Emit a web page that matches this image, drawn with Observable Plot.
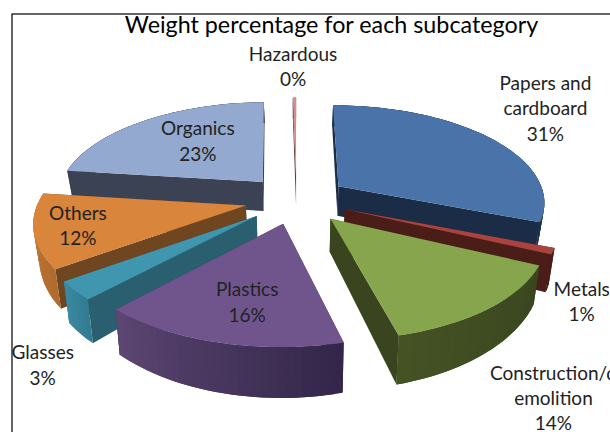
<!DOCTYPE html>
<html><head><meta charset="utf-8">
<script src="https://cdn.jsdelivr.net/npm/d3@7"></script>
<script src="https://cdn.jsdelivr.net/npm/@observablehq/plot@0.6"></script>
<style>html,body{margin:0;padding:0;background:#fff;overflow:hidden}</style>
</head><body><div id="chart"></div>
<script>
const title = "Weight percentage for each subcategory";
const categories = ["Papers and\ncardboard","Metals","Construction/d\nemolition","Plastics","Glasses","Others","Organics","Hazardous"];
const shares = [31,1,14,16,3,12,22.7,0.3];
const topColors = ["#4a74a9","#a8433f","#87a54c","#70558d","#3f96ae","#d9853b","#93a9cf","#cf8f8c"];
const wallColors = ["#1b2d46","#4a1d19","#3a4520","#3a2c4e","#2a5f70","#6f4620","#3b4253","#5a3030"];
const arcStart = ["#1b2f49","#4a1d19","#445224","#5c4672","#3a89a1","#c67d38","#3b4253","#5a3030"];
const arcEnd = ["#1c3049","#4a1d19","#3a4620","#33264a","#327c92","#b06c2f","#3b4253","#5a3030"];
const drawOrder = [7,6,0,5,1,4,2,3];
const labelShift = [[207,-79],[237,91],[223,178],[-36,77],[-214,148],[-168,19],[-65,-42],[-3,-111]];

// pie geometry (radii in chart units)
const cx = 296, cy = 199, Rx = 207, Ry = 96.7, explode = 0.25, tilt = 0.15, wall = 31;
const total = d3.sum(shares);
const angles = d3.cumsum(shares).map(c => c / total * 2 * Math.PI);
const project = (u, v, low) => {
  const s = 1 / (1 + tilt * v);
  const x = cx + Rx * u * s, y = cy - Ry * v * s;
  return low ? [cx + (x - cx) * 0.977, y + wall * Math.pow(s, 2.4)] : [x, y];
};
const rows = [];
let nid = 0;
const poly = (pts, color) => { const id = nid++; pts.forEach(p => rows.push({id, x: p[0], y: p[1], color})); };
const labels = [];
const slices = [];
shares.forEach((v, i) => {
  const a0 = i ? angles[i - 1] : 0, a1 = angles[i], mid = (a0 + a1) / 2;
  const ou = explode * Math.sin(mid), ov = explode * Math.cos(mid);
  const apex = project(ou, ov);
  labels.push({text: `${categories[i]}\n${Math.round(v)}%`, x: apex[0] + labelShift[i][0], y: apex[1] + labelShift[i][1]});
  slices[i] = {a0, a1, ou, ov};
});
function slicePoly(i) {
  const {a0, a1, ou, ov} = slices[i];
  const n = Math.max(2, Math.ceil((a1 - a0) * 30));
  const rim = d3.range(n + 1).map(k => {
    const a = a0 + (a1 - a0) * k / n;
    return [ou + Math.sin(a), ov + Math.cos(a)];
  });
  const up = p => project(p[0], p[1]), dn = p => project(p[0], p[1], true);
  const c = [ou, ov];
  const walls = [
    {p: [up(c), up(rim[0]), dn(rim[0]), dn(c)], y: (c[1] + rim[0][1]) / 2},
    {p: [up(c), up(rim[n]), dn(rim[n]), dn(c)], y: (c[1] + rim[n][1]) / 2}
  ];
  walls.sort((a, b) => b.y - a.y).forEach(w => poly(w.p, wallColors[i]));
  const ramp = d3.interpolateRgb(arcStart[i], arcEnd[i]);
  const leftFirst = up(rim[0])[0] < up(rim[n])[0];
  // each strip reaches over the next one, so no seam of background shows between them
  for (let k = 0; k < n; k++) {
    const t = leftFirst ? k / Math.max(1, n - 1) : 1 - k / Math.max(1, n - 1);
    const strip = rim.slice(k, Math.min(n, k + 2) + 1);
    poly([...strip.map(up), ...strip.map(dn).reverse()], d3.rgb(ramp(t)).formatHex());
  }
  poly([up(c), ...rim.map(up)], topColors[i]);
}
drawOrder.forEach(slicePoly);

const chart = Plot.plot({
  width: 610, height: 432, margin: 0,
  style: {background: "#fff", overflow: "hidden", fontFamily: "Lato"},
  x: {domain: [0, 610], range: [0, 610], axis: null},
  y: {domain: [0, 432], range: [0, 432], axis: null},
  color: {type: "identity"},
  marks: [
    Plot.frame({stroke: "#000", strokeWidth: 1.2, insetLeft: 11.5, insetTop: 13.5, insetRight: -4, insetBottom: -4}),
    Plot.line(rows, {x: "x", y: "y", z: "id", fill: "color", stroke: "none", curve: "linear-closed"}),
    Plot.text(labels, {x: "x", y: "y", text: "text", fontSize: 19, lineHeight: 1.33, fill: "#222", fontFamily: "Lato"}),
    Plot.text([title], {frameAnchor: "top", dx: 26, dy: 15.5, fontSize: 23.3, fill: "#000", fontFamily: "Lato", lineAnchor: "top"})
  ]
});
document.getElementById("chart").appendChild(chart);
</script>
</body></html>
